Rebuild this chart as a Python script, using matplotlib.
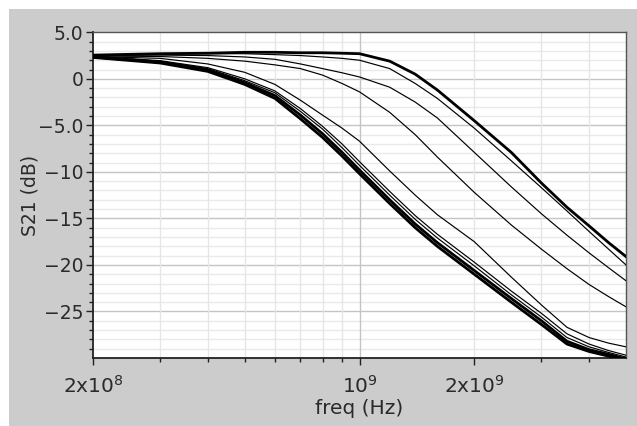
import matplotlib
matplotlib.use("Agg")
import matplotlib.pyplot as plt
from matplotlib.patches import Rectangle
import numpy as np

# ---- data ----
freq = [2e8, 3e8, 4e8, 5e8, 6e8, 7e8, 8e8, 9e8, 1e9, 1.2e9, 1.4e9, 1.6e9,
        2e9, 2.5e9, 3e9, 3.5e9, 4e9, 4.5e9, 5e9]

s21_a = [2.55, 2.7, 2.75, 2.85, 2.85, 2.8, 2.8, 2.75, 2.7, 1.9, 0.5, -1.2,
         -4.5, -7.9, -11.2, -13.8, -15.8, -17.6, -19.1]
s21_b = [2.5, 2.65, 2.7, 2.7, 2.6, 2.5, 2.35, 2.2, 2.0, 1.1, -0.5, -2.1,
         -5.3, -8.8, -11.7, -14.2, -16.4, -18.3, -20.0]
s21_c = [2.5, 2.55, 2.5, 2.35, 2.1, 1.6, 1.1, 0.65, 0.2, -0.9, -2.5, -4.2,
         -7.9, -11.6, -14.5, -16.8, -18.7, -20.3, -21.7]
s21_d = [2.45, 2.4, 2.2, 1.9, 1.5, 1.1, 0.4, -0.5, -1.4, -3.6, -6.0, -8.4,
         -12.2, -15.7, -18.3, -20.4, -22.1, -23.4, -24.5]
s21_e = [2.4, 2.2, 1.6, 0.7, -0.6, -2.3, -3.9, -5.3, -6.7, -9.9, -12.5, -14.6,
         -17.5, -21.3, -24.3, -26.7, -27.8, -28.4, -28.8]
s21_k1 = [2.3, 1.7, 0.8, -0.6, -2.1, -4.3, -6.3, -8.3, -10.2, -13.4, -16.0, -18.0,
          -21.0, -24.0, -26.4, -28.5, -29.3, -29.8, -30.2]
s21_k2 = [2.35, 1.8, 0.95, -0.4, -1.8, -3.9, -5.9, -7.9, -9.8, -13.0, -15.6, -17.6,
          -20.6, -23.6, -26.0, -28.2, -29.1, -29.6, -30.1]
s21_k3 = [2.4, 1.9, 1.1, -0.2, -1.5, -3.5, -5.4, -7.4, -9.3, -12.5, -15.1, -17.1,
          -20.1, -23.2, -25.6, -27.8, -28.8, -29.4, -29.9]
s21_k4 = [2.4, 1.95, 1.2, 0.0, -1.3, -3.2, -5.1, -7.0, -8.9, -12.1, -14.7, -16.7,
          -19.7, -22.8, -25.2, -27.4, -28.5, -29.2, -29.7]

thick_curves = [s21_a, s21_k1, s21_k2]
thin_curves = [s21_b, s21_c, s21_d, s21_e, s21_k3, s21_k4]

y_ticks = [5, 0, -5, -10, -15, -20, -25]
y_labels = ["5.0", "0", "\u22125.0", "\u221210", "\u221215", "\u221220", "\u221225"]
x_ticks = [2e8, 1e9, 2e9]
x_labels = [r"2x10$^{8}$", r"10$^{9}$", r"2x10$^{9}$"]
x_minor = [3e8, 4e8, 5e8, 6e8, 7e8, 8e8, 9e8, 3e9, 4e9]

# ---- figure ----
W, H = 637, 426
fig = plt.figure(figsize=(W / 100, H / 100), dpi=100, facecolor="white")
fig.patches.append(Rectangle((9 / W, 0), 1 - 9 / W, 1 - 9 / H, transform=fig.transFigure,
                             facecolor="#cccccc", edgecolor="none", zorder=-10))

ax = fig.add_axes([93 / W, 1 - 358 / H, (626 - 93) / W, (358 - 32.3) / H])
ax.set_facecolor("white")
ax.set_xscale("log")
ax.set_xlim(2e8, 5e9)
ax.set_ylim(-30, 5)

# grid
for yv in range(-29, 5):
    major = (yv % 5 == 0)
    ax.axhline(yv, color="#c4c4c4" if major else "#e9e9e9", lw=1.0, zorder=0)
for xv in x_minor + [2e9]:
    ax.axvline(xv, color="#e6e6e6", lw=1.0, zorder=0)
ax.axvline(1e9, color="#c4c4c4", lw=1.0, zorder=0)

for c in thin_curves:
    ax.plot(freq, c, color="black", lw=0.85, zorder=3)
for c in thick_curves:
    ax.plot(freq, c, color="black", lw=2.0, zorder=4)

ax.set_yticks(y_ticks)
ax.set_yticklabels(y_labels)
ax.set_yticks(np.arange(-29, 5, 1), minor=True)
ax.set_xticks(x_ticks)
ax.set_xticklabels(x_labels)
ax.set_xticks(x_minor, minor=True)
ax.xaxis.set_minor_formatter(matplotlib.ticker.NullFormatter())

ax.tick_params(axis="both", which="major", direction="out", length=5, width=1,
               labelsize=13.5, color="#222222", labelcolor="#2a2a2a")
ax.tick_params(axis="x", which="major", labelsize=14.5, pad=7)
ax.tick_params(axis="both", which="minor", direction="out", length=3, width=1,
               color="#222222")
ax.tick_params(axis="y", which="major", pad=2)

for side in ["left", "bottom"]:
    ax.spines[side].set_color("#222222")
    ax.spines[side].set_linewidth(1.3)
for side in ["top", "right"]:
    ax.spines[side].set_color("#555555")
    ax.spines[side].set_linewidth(1.0)

ax.set_xlabel("freq (Hz)", fontsize=14.5, color="#2a2a2a", labelpad=2)
ax.set_ylabel("S21 (dB)", fontsize=13.5, color="#2a2a2a", labelpad=-1)

fig.savefig("out.png", dpi=100, facecolor=fig.get_facecolor())
